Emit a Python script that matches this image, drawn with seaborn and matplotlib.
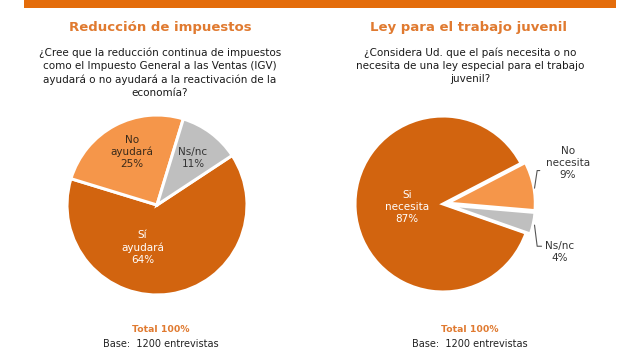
import matplotlib
matplotlib.use("Agg")
import matplotlib.pyplot as plt
import seaborn as sns

sns.set_theme(style="white")
plt.rcParams['font.family'] = ['DejaVu Sans']

# ---- data ----
left_title = "Reducción de impuestos"
left_question = ("¿Cree que la reducción continua de impuestos\n"
                 "como el Impuesto General a las Ventas (IGV)\n"
                 "ayudará o no ayudará a la reactivación de la\n"
                 "economía?")
left_labels = ["Sí\nayudará", "No\nayudará", "Ns/nc"]
left_values = [64, 25, 11]

right_title = "Ley para el trabajo juvenil"
right_question = ("¿Considera Ud. que el país necesita o no\n"
                  "necesita de una ley especial para el trabajo\n"
                  "juvenil?")
right_labels = ["Si\nnecesita", "Ns/nc", "No\nnecesita"]
right_values = [87, 4, 9]

total_text = "Total 100%"
base_text = "Base:  1200 entrevistas"

DARK = "#D2640F"
LIGHT = "#F5964A"
GRAY = "#BFBFBF"
TITLE_ORANGE = "#E07A30"
BAR_ORANGE = "#E46C0A"

W, H = 640, 357
fig = plt.figure(figsize=(W / 100, H / 100), dpi=100)
fig.patch.set_facecolor("white")

def fx(x):
    return x / W

def fy(y):
    return 1 - y / H

# top orange bar
bar_ax = fig.add_axes([fx(24), fy(8), fx(616) - fx(24), 8 / H])
bar_ax.axis("off")
bar_ax.add_patch(plt.Rectangle((0, 0), 1, 1, color=BAR_ORANGE, transform=bar_ax.transAxes))

LIM = 1.6

def pie_axes(cx, cy, r, lim=LIM):
    size = 2 * r * lim
    ax = fig.add_axes([fx(cx - r * lim), fy(cy + r * lim), size / W, size / H])
    return ax

def finish(ax, lim=LIM):
    ax.set_xlim(-lim, lim)
    ax.set_ylim(-lim, lim)
    ax.set_aspect("equal")
    ax.axis("off")

# ---- left pie ----
axl = pie_axes(157, 205, 90)
axl.pie(left_values, colors=[DARK, LIGHT, GRAY], startangle=33.4, counterclock=False,
        wedgeprops=dict(edgecolor="white", linewidth=2.2))
finish(axl)
left_pos = [(-0.16, -0.47), (-0.28, 0.59), (0.40, 0.52)]
left_tcol = ["white", "#3a2a1a", "#333333"]
for lab, val, pos, c in zip(left_labels, left_values, left_pos, left_tcol):
    axl.text(pos[0], pos[1], f"{lab}\n{val}%", ha="center", va="center",
             fontsize=7.5, color=c, linespacing=1.25)

# ---- right pie ----
axr = pie_axes(443, 204, 88)
axr.pie(right_values, colors=[DARK, GRAY, LIGHT], startangle=27.5, counterclock=True,
        explode=[0, 0.05, 0.05], wedgeprops=dict(edgecolor="white", linewidth=2.2))
finish(axr)
right_pos = [(-0.41, -0.03), (1.33, -0.55), (1.42, 0.47)]
right_tcol = ["white", "#333333", "#333333"]
for lab, val, pos, c in zip(right_labels, right_values, right_pos, right_tcol):
    axr.text(pos[0], pos[1], f"{lab}\n{val}%", ha="center", va="center",
             fontsize=7.5, color=c, linespacing=1.25)
# leader lines
axr.plot([1.04, 1.07, 1.10], [0.18, 0.38, 0.38], color="#555555", lw=0.8)
axr.plot([1.04, 1.07, 1.12], [-0.24, -0.48, -0.48], color="#555555", lw=0.8)

# ---- titles & texts ----
fig.text(fx(160), fy(28), left_title, ha="center", va="center", fontsize=9.5,
         fontweight="bold", color=TITLE_ORANGE)
fig.text(fx(468), fy(28), right_title, ha="center", va="center", fontsize=9.5,
         fontweight="bold", color=TITLE_ORANGE)
fig.text(fx(160), fy(47), left_question, ha="center", va="top", fontsize=7.5,
         color="#1a1a1a", linespacing=1.42)
fig.text(fx(470), fy(47), right_question, ha="center", va="top", fontsize=7.5,
         color="#1a1a1a", linespacing=1.42)

for cx in (161, 470):
    fig.text(fx(cx), fy(329), total_text, ha="center", va="center", fontsize=6.7,
             fontweight="bold", color=TITLE_ORANGE)
    fig.text(fx(cx), fy(344), base_text, ha="center", va="center", fontsize=7,
             color="#222222")

fig.savefig("out.png", dpi=100, facecolor="white")
